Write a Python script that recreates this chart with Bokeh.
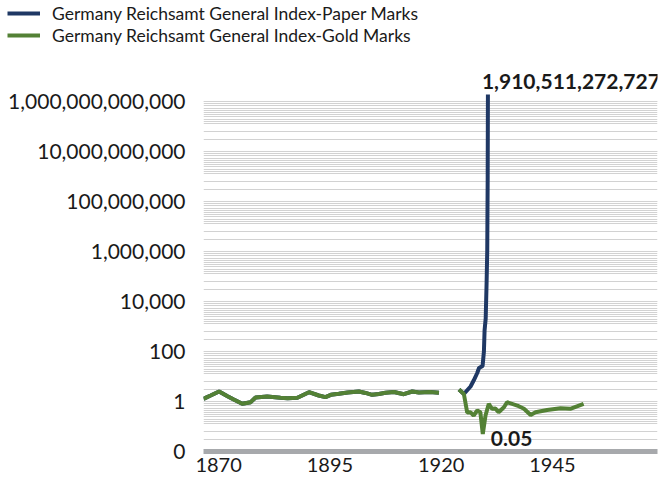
from bokeh.plotting import figure
from bokeh.models import (FixedTicker, CustomJSTickFormatter, Legend, LegendItem,
                          Label, Range1d)
from bokeh.embed import file_html
from bokeh.resources import INLINE

nan = float("nan")

# Pre-war period (both indices coincide)
pre_years = [1866.6, 1868.2, 1870.1, 1872.0, 1873.4, 1875.3, 1877.2, 1878.3, 1880.9,
             1883.9, 1885.5, 1887.7, 1890.3, 1892.5, 1894.0, 1895.2, 1897.0, 1899.0,
             1901.5, 1903.0, 1904.5, 1906.0, 1907.5, 1909.4, 1911.6, 1913.5, 1915.0,
             1917.5, 1919.5]
pre_values = [1.28, 1.74, 2.51, 1.63, 1.20, 0.81, 0.94, 1.45, 1.58,
              1.41, 1.35, 1.41, 2.36, 1.74, 1.50, 1.85, 2.03, 2.30,
              2.51, 2.20, 1.85, 2.00, 2.23, 2.40, 1.96, 2.51, 2.30,
              2.40, 2.23]

# Germany Reichsamt General Index - Paper Marks (post-war)
paper_years = [1924.0, 1925.1, 1926.6, 1927.3, 1928.1, 1928.5, 1929.3, 1929.6,
               1929.75, 1930.0, 1930.2, 1930.35, 1930.45, 1930.5]
paper_values = [3.0, 2.0, 4.0, 6.9, 13.8, 21.9, 26.3, 100.0,
                700.0, 2090.0, 52500.0, 1.1e6, 1.0e9, 1910511272727]

# Germany Reichsamt General Index - Gold Marks (post-war)
gold_years = [1924.0, 1925.1, 1925.85, 1926.6, 1927.3, 1928.1, 1928.8, 1929.35,
              1929.96, 1930.7, 1931.4, 1932.2, 1932.9, 1934.1, 1934.8, 1937.1,
              1938.6, 1940.1, 1941.2, 1943.8, 1946.8, 1949.0, 1952.0]
gold_values = [3.0, 2.0, 0.36, 0.37, 0.275, 0.44, 0.37, 0.05,
               0.275, 0.81, 0.51, 0.52, 0.37, 0.59, 0.94, 0.69,
               0.51, 0.29, 0.37, 0.46, 0.54, 0.51, 0.81]

y_major = [0.01, 1, 1e2, 1e4, 1e6, 1e8, 1e10, 1e12]
x_major = [1870, 1895, 1920, 1945]

series_names = ["Germany Reichsamt General Index-Paper Marks",
                "Germany Reichsamt General Index-Gold Marks"]

BLUE = "#1f3864"
GREEN = "#538135"
FONT = "Lato"
TXT = "#1a1a1a"

paper_x = pre_years + [nan] + paper_years
paper_y = pre_values + [nan] + paper_values
gold_x = pre_years + [nan] + gold_years
gold_y = pre_values + [nan] + gold_values

peak_val = max(paper_values)
peak_x = paper_years[paper_values.index(peak_val)]
min_val = min(gold_values)
min_x = gold_years[gold_values.index(min_val)]

W, H = 663, 487

# ---------------- legend strip ----------------
LEG_H = 48
lg = figure(width=W, height=LEG_H, output_backend="svg", toolbar_location=None,
            x_range=Range1d(0, 1), y_range=Range1d(0, 1),
            x_axis_location=None, y_axis_location=None,
            min_border_left=0, min_border_right=0, min_border_top=0, min_border_bottom=0)
lg.outline_line_color = None
lg.xgrid.grid_line_color = None
lg.ygrid.grid_line_color = None
# swatch carriers, kept outside the visible range of this strip
d_paper = lg.line([-5, -4], [-5, -4], line_color=BLUE, line_width=4)
d_gold = lg.line([-5, -4], [-5, -4], line_color=GREEN, line_width=4)
legend = Legend(items=[LegendItem(label=series_names[0], renderers=[d_paper]),
                       LegendItem(label=series_names[1], renderers=[d_gold])],
                location=(7, 2), orientation="vertical",
                label_text_font=FONT, label_text_font_size="17.5px",
                label_text_color=TXT,
                glyph_width=33, glyph_height=22, label_height=22,
                label_standoff=12, spacing=0, padding=0, margin=0,
                background_fill_alpha=0, border_line_alpha=0)
lg.add_layout(legend, "center")

# ---------------- main chart ----------------
MAIN_H = H - LEG_H
# headroom above the peak for its label (about 46 px at 25 px/decade)
y_top = peak_val * 10 ** (46 / 25)

p = figure(width=W, height=MAIN_H, output_backend="svg", toolbar_location=None,
           y_axis_type="log",
           x_range=Range1d(1866.6, 1968.6), y_range=Range1d(0.01, y_top),
           min_border_left=203, min_border_right=6, min_border_top=0,
           min_border_bottom=36)
p.outline_line_color = None
p.background_fill_color = "white"

# grid line positions (px above the lower major line, 50 px per major step)
offs = [12, 20] + [28 + 2.2 * k for k in range(11)]
minor = [m * 10 ** (o / 25) for m in y_major[:-1] for o in offs]
yt = FixedTicker(ticks=y_major, minor_ticks=minor)
p.yaxis.ticker = yt
p.ygrid.ticker = yt
p.ygrid.grid_line_color = "#d2d2d2"
p.ygrid.minor_grid_line_color = "#d2d2d2"
p.xgrid.grid_line_color = None

p.yaxis.formatter = CustomJSTickFormatter(
    code="if (tick < 0.5) { return '0'; } return Math.round(tick).toLocaleString('en-US');")
p.yaxis.axis_line_color = None
p.yaxis.major_tick_line_color = None
p.yaxis.minor_tick_line_color = None
p.yaxis.major_tick_out = 0
p.yaxis.minor_tick_out = 0
p.yaxis.major_label_standoff = 18
p.yaxis.major_label_text_font = FONT
p.yaxis.major_label_text_font_size = "21px"
p.yaxis.major_label_text_color = TXT

p.xaxis.ticker = FixedTicker(ticks=x_major)
p.xaxis.axis_line_color = "#a7a9ac"
p.xaxis.axis_line_width = 5
p.xaxis.major_tick_line_color = None
p.xaxis.minor_tick_line_color = None
p.xaxis.major_tick_out = 0
p.xaxis.minor_tick_out = 0
p.xaxis.major_label_standoff = 6
p.xaxis.major_label_text_font = FONT
p.xaxis.major_label_text_font_size = "20px"
p.xaxis.major_label_text_color = TXT

p.line(paper_x, paper_y, line_color=BLUE, line_width=4)
p.line(gold_x, gold_y, line_color=GREEN, line_width=4)

p.add_layout(Label(x=peak_x, y=peak_val, text=f"{peak_val:,.0f}",
                   x_offset=-6, y_offset=13, text_baseline="alphabetic",
                   text_font=FONT, text_font_style="bold", text_font_size="21px",
                   text_color=TXT))
p.add_layout(Label(x=min_x, y=min_val, text=f"{min_val:g}",
                   x_offset=8, y_offset=-4, text_baseline="alphabetic",
                   text_font=FONT, text_font_style="bold", text_font_size="21px",
                   text_color=TXT))

open("out.html", "w").write(file_html([lg, p], INLINE))
